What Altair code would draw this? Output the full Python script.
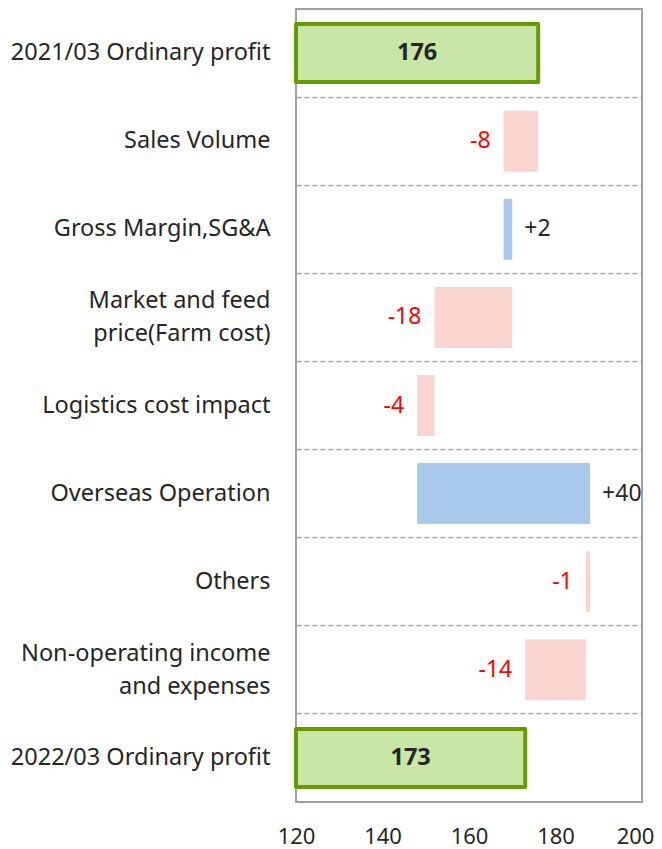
import altair as alt
import pandas as pd

categories = [
    "2021/03 Ordinary profit",
    "Sales Volume",
    "Gross Margin,SG&A",
    "Market and feed\nprice(Farm cost)",
    "Logistics cost impact\u00a0",
    "Overseas Operation",
    "Others",
    "Non-operating income\nand expenses",
    "2022/03 Ordinary profit",
]
start_total = 176
end_total = 173
deltas = [-8, 2, -18, -4, 40, -1, -14]
x_ticks = [120, 140, 160, 180, 200]
axis_base = 120

# build table
rows = []
rows.append({"cat": categories[0], "kind": "total", "x0": axis_base, "x1": start_total,
             "label": str(start_total)})
run = start_total
for c, d in zip(categories[1:-1], deltas):
    nxt = run + d
    rows.append({"cat": c, "kind": "pos" if d > 0 else "neg",
                 "x0": min(run, nxt), "x1": max(run, nxt),
                 "label": f"{d:+d}"})
    run = nxt
rows.append({"cat": categories[-1], "kind": "total", "x0": axis_base, "x1": end_total,
             "label": str(end_total)})
df = pd.DataFrame(rows)
df["mid"] = (df["x0"] + df["x1"]) / 2

FONT = "Noto Sans"

y_enc = alt.Y(
    "cat:N",
    sort=categories,
    title=None,
    scale=alt.Scale(paddingInner=0, paddingOuter=0),
    axis=alt.Axis(
        ticks=False, domain=False, grid=True, bandPosition=0,
        gridDash=[5, 3], gridColor="#a6a6a6", gridWidth=1.5,
        labelFont=FONT, labelFontSize=23.5, labelColor="#262626",
        labelPadding=26, labelLineHeight=33, labelLimit=300,
        labelExpr="split(datum.label, '\\n')",
        labelOffset={"expr": "indexof(datum.value, '\\n') >= 0 ? -16 : 0"},
    ),
)
x_scale = alt.Scale(domain=[120, 200], nice=False, zero=False)
x_axis = alt.Axis(
    values=x_ticks, ticks=False, domain=False, grid=False, title=None, labelFlush=False,
    labelFont=FONT, labelFontSize=22, labelColor="#262626", labelPadding=24,
    labelOffset={"expr": "datum.value >= 200 ? -7 : 0"},
)

base = alt.Chart(df)

delta_bars = base.transform_filter("datum.kind != 'total'").mark_bar(height=61).encode(
    x=alt.X("x0:Q", scale=x_scale, axis=x_axis),
    x2="x1:Q",
    y=y_enc,
    color=alt.Color("kind:N", scale=alt.Scale(domain=["neg", "pos"], range=["#fad4cf", "#a9c9ec"]),
                    legend=None),
)

total_bars = base.transform_filter("datum.kind == 'total'").mark_bar(
    height=58, fill="#c8e6a6", stroke="#669c00", strokeWidth=4, strokeJoin="round"
).encode(
    x=alt.X("x0:Q", scale=x_scale, axis=x_axis),
    x2="x1:Q",
    y=y_enc,
)

total_labels = base.transform_filter("datum.kind == 'total'").mark_text(
    font=FONT, fontSize=23.5, fontWeight="bold", color="#262626"
).encode(x=alt.X("mid:Q", scale=x_scale), y=y_enc, text="label:N")

neg_labels = base.transform_filter("datum.kind == 'neg'").mark_text(
    font=FONT, fontSize=23, color="#ff0000", align="right", dx=-13
).encode(x=alt.X("x0:Q", scale=x_scale), y=y_enc, text="label:N")

pos_labels = base.transform_filter("datum.kind == 'pos'").mark_text(
    font=FONT, fontSize=23, color="#262626", align="left", dx=12
).encode(x=alt.X("x1:Q", scale=x_scale), y=y_enc, text="label:N")

chart = alt.layer(delta_bars, total_bars, total_labels, neg_labels, pos_labels).properties(
    width=346, height=793,
    autosize=alt.AutoSizeParams(type="none"),
    padding={"left": 288, "top": 1, "right": 12, "bottom": 47},
).configure_view(stroke="#a0a0a0", strokeWidth=2)

chart.save("out.html", embed_options={"renderer": "svg", "actions": False})
